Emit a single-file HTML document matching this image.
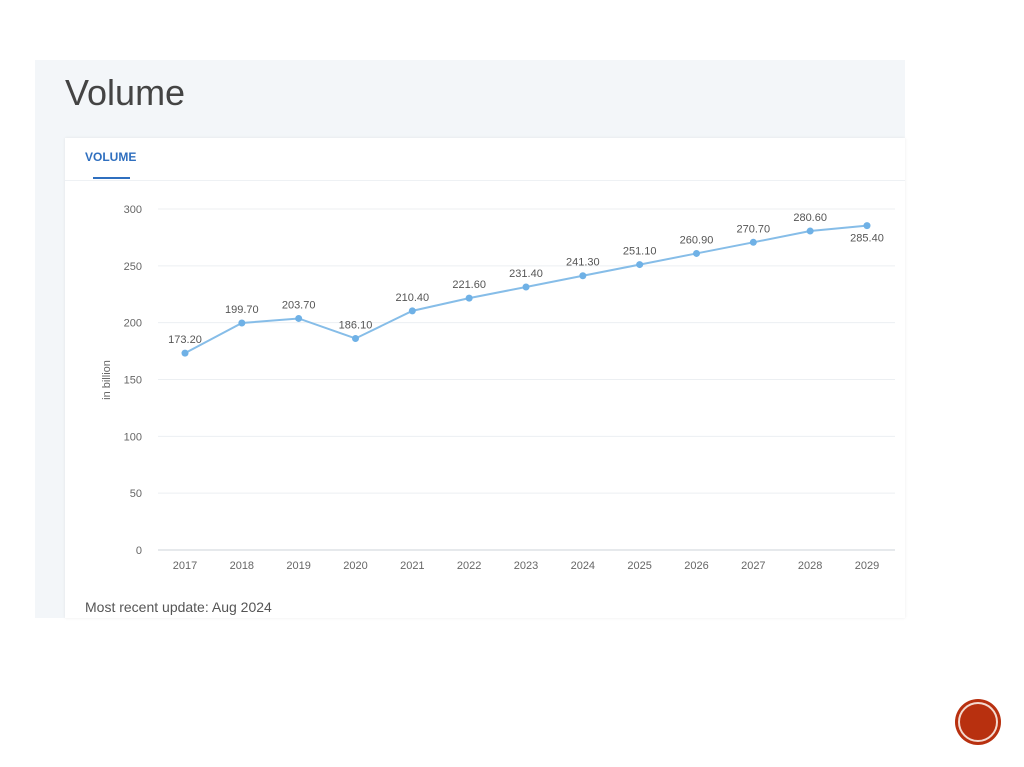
<!DOCTYPE html>
<html><head><meta charset="utf-8"><style>
body{margin:0;width:1024px;height:767px;background:#fff;position:relative;overflow:hidden;font-family:"Liberation Sans",sans-serif}
#panel{position:absolute;left:35px;top:60px;width:870px;height:558px;background:#f3f6f9}
#title{position:absolute;left:65px;top:72px;font-size:36px;color:#444;font-weight:normal}
#card{position:absolute;left:65px;top:138px;width:840px;height:480px;background:#fff;box-shadow:0 0 3px rgba(0,0,0,0.08)}
#tab{position:absolute;left:85px;top:150px;font-size:12px;font-weight:bold;color:#2f6fbf}
#tabline{position:absolute;left:93px;top:177px;width:37px;height:2px;background:#2f6fbf}
#sep{position:absolute;left:65px;top:180px;width:840px;height:1px;background:#eef1f4}
#upd{position:absolute;left:85px;top:599px;font-size:14px;color:#555}
#badge{position:absolute;left:955px;top:699px;width:46px;height:46px;border-radius:50%;background:#b8300f}
#badge div{position:absolute;left:3px;top:3px;width:36px;height:36px;border-radius:50%;border:2px solid #f3d9cf}
</style></head><body>
<div id="panel"></div>
<div id="title">Volume</div>
<div id="card"></div>
<div id="tab">VOLUME</div>
<div id="tabline"></div>
<div id="sep"></div>
<svg id="chart" width="1024" height="767" style="position:absolute;left:0;top:0"></svg>
<div id="upd">Most recent update: Aug 2024</div>
<div id="badge"><div></div></div>
<script>
const years=["2017","2018","2019","2020","2021","2022","2023","2024","2025","2026","2027","2028","2029"];
const values=[173.2,199.7,203.7,186.1,210.4,221.6,231.4,241.3,251.1,260.9,270.7,280.6,285.4];
const labels=["173.20","199.70","203.70","186.10","210.40","221.60","231.40","241.30","251.10","260.90","270.70","280.60","285.40"];
const yTicks=[0,50,100,150,200,250,300];
const NS="http://www.w3.org/2000/svg";
const svg=document.getElementById('chart');
const x=i=>185+i*(867-185)/(years.length-1);
const y=v=>550-v*(341/300);
function mk(t,a){const e=document.createElementNS(NS,t);for(const k in a)e.setAttribute(k,a[k]);svg.appendChild(e);return e;}
yTicks.forEach(t=>{
 const l=mk('line',{x1:158,x2:895,y1:y(t),y2:y(t),stroke:t===0?'#ccd3da':'#eceff2','stroke-width':1});
 
 
 const tx=mk('text',{x:142,y:y(t)+4,'text-anchor':'end','font-size':11,fill:'#666','font-family':'Liberation Sans, sans-serif'});
 tx.textContent=t;
 
 
});
const yt=mk('text',{x:0,y:0,transform:'translate(110,380) rotate(-90)','text-anchor':'middle','font-size':11,fill:'#666','font-family':'Liberation Sans, sans-serif'});
yt.textContent='in billion';


years.forEach((yr,i)=>{
 const t=mk('text',{x:x(i),y:569,'text-anchor':'middle','font-size':11,fill:'#666','font-family':'Liberation Sans, sans-serif'});
 t.textContent=yr;
 
 
});
const p=mk('polyline',{points:values.map((v,i)=>x(i)+','+y(v)).join(' '),fill:'none',stroke:'#86bde8','stroke-width':2});


values.forEach((v,i)=>{
 const c=mk('circle',{cx:x(i),cy:y(v),r:3.5,fill:'#6fb1e6'});
 
 
 const last=i===values.length-1;
 const t=mk('text',{x:x(i),y:last?y(v)+16:y(v)-10,'text-anchor':'middle','font-size':11,fill:'#555','font-family':'Liberation Sans, sans-serif'});
 t.textContent=labels[i];
 
 
});
</script>
</body></html>
